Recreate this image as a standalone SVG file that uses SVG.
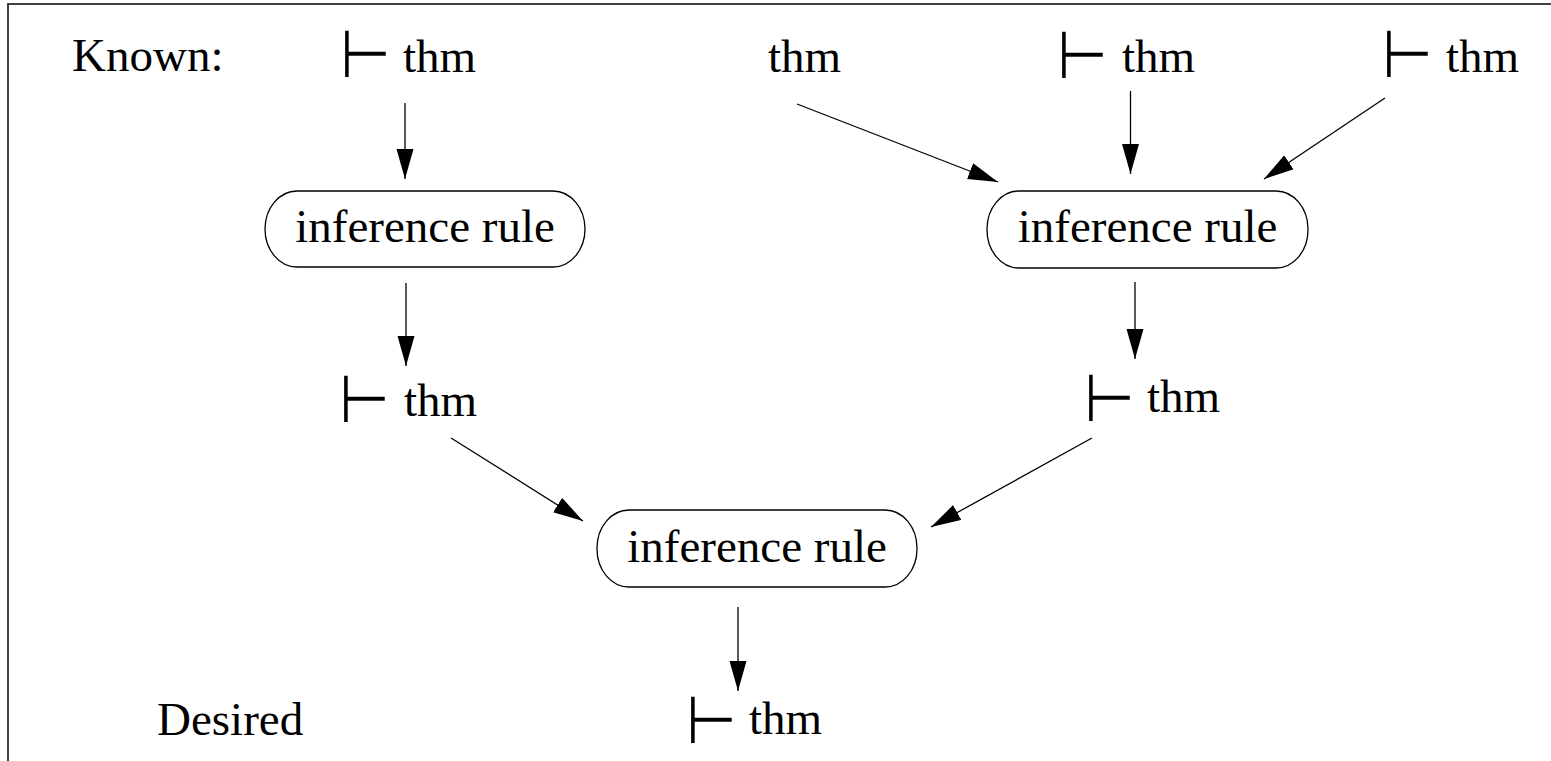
<svg xmlns="http://www.w3.org/2000/svg" width="1551" height="761" viewBox="0 0 1551 761">
<style>
.t{font-family:"Liberation Serif","Times New Roman",serif;font-size:47px;fill:#000}
.ts{font-family:"DejaVu Sans",sans-serif;font-size:58px;fill:#000}
.box{fill:#fff;stroke:#000;stroke-width:1.3}
.c line{stroke:#000;stroke-width:1.3;marker-end:url(#ah)}
</style>
<defs>
<marker id="ah" markerUnits="userSpaceOnUse" markerWidth="32" markerHeight="18" refX="30" refY="8.5" orient="auto">
<path d="M0,0 L30,8.5 L0,17 z" fill="#000"/>
</marker>
</defs>
<rect x="8" y="4" width="1600" height="800" fill="#fff" stroke="#404040" stroke-width="2"/>
<g id="known"><text class="t" x="72" y="71">Known:</text></g>
<g id="top1"><text class="ts" transform="translate(340,77) scale(1,1.14)">⊢</text><text class="t" x="403" y="72">thm</text></g>
<g id="top2"><text class="t" x="768" y="72">thm</text></g>
<g id="top3"><text class="ts" transform="translate(1057,78) scale(1,1.14)">⊢</text><text class="t" x="1122" y="72">thm</text></g>
<g id="top4"><text class="ts" transform="translate(1382,77) scale(1,1.14)">⊢</text><text class="t" x="1446" y="72">thm</text></g>
<g id="rule1"><rect class="box" x="265" y="191" width="320" height="76" rx="32" ry="38"/><text class="t" x="425" y="242" text-anchor="middle">inference rule</text></g>
<g id="rule2"><rect class="box" x="987" y="191" width="321" height="77" rx="32" ry="38"/><text class="t" x="1147.5" y="242" text-anchor="middle">inference rule</text></g>
<g id="mid1"><text class="ts" transform="translate(339,422) scale(1,1.14)">⊢</text><text class="t" x="404" y="416">thm</text></g>
<g id="mid2"><text class="ts" transform="translate(1084,421) scale(1,1.14)">⊢</text><text class="t" x="1147" y="412">thm</text></g>
<g id="rule3"><rect class="box" x="597" y="510" width="320" height="77" rx="32" ry="38"/><text class="t" x="757" y="562" text-anchor="middle">inference rule</text></g>
<g id="desired"><text class="t" x="157" y="735">Desired</text></g>
<g id="goal"><text class="ts" transform="translate(686,743) scale(1,1.14)">⊢</text><text class="t" x="749" y="734">thm</text></g>
<g class="c" id="connectors">
<line x1="405" y1="103" x2="405" y2="179"/>
<line x1="797" y1="104" x2="998" y2="182"/>
<line x1="1130.5" y1="91" x2="1130.5" y2="174"/>
<line x1="1385" y1="98" x2="1264" y2="179"/>
<line x1="406" y1="283" x2="406" y2="366"/>
<line x1="1135" y1="282" x2="1135" y2="359"/>
<line x1="451" y1="438" x2="583" y2="521"/>
<line x1="1092" y1="438" x2="931" y2="527"/>
<line x1="738" y1="607" x2="738" y2="691"/>
</g>
</svg>
